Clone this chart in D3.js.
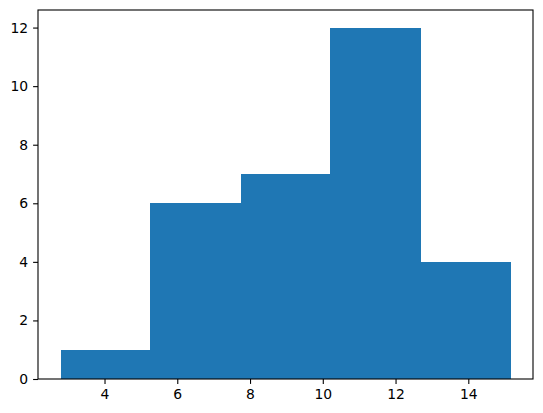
<!DOCTYPE html>
<html>
<head>
<meta charset="utf-8">
<script src="https://cdn.jsdelivr.net/npm/d3@7"></script>
<style>
  body { margin: 0; background: #fff; }
  svg text { font-family: "DejaVu Sans", sans-serif; font-size: 13.9px; fill: #000; }
</style>
</head>
<body>
<div class="chart"></div>
<script>
var width = 543;
var height = 413;

// histogram data
var binEdges = [2.79, 5.26, 7.74, 10.21, 12.69, 15.16];
var counts = [1, 6, 7, 12, 4];
var xTicks = [4, 6, 8, 10, 12, 14];
var yTicks = [0, 2, 4, 6, 8, 10, 12];

// plot area (note: "top" is reserved on window, so use a margin object)
var plot = {left: 38, right: 533, top: 10, bottom: 379};

var svg = d3.select(".chart")
  .append("svg")
  .attr("width", width)
  .attr("height", height);

var lo = binEdges[0], hi = binEdges[binEdges.length - 1];
var pad = (hi - lo) * 0.05;

var x = d3.scaleLinear()
  .domain([lo - pad, hi + pad])
  .range([plot.left, plot.right]);

var y = d3.scaleLinear()
  .domain([0, d3.max(counts) * 1.05])
  .range([plot.bottom, plot.top]);

var bins = counts.map(function(c, i) {
  return {x0: binEdges[i], x1: binEdges[i + 1], count: c};
});

svg.selectAll(".bar")
  .data(bins)
  .enter().append("rect")
    .attr("class", "bar")
    .attr("x", function(d) { return x(d.x0); })
    .attr("width", function(d) { return x(d.x1) - x(d.x0); })
    .attr("y", function(d) { return y(d.count); })
    .attr("height", function(d) { return y(0) - y(d.count); })
    .attr("fill", "#1f77b4")
    .attr("shape-rendering", "crispEdges");

var xAxis = d3.axisBottom(x)
  .tickValues(xTicks)
  .tickSize(4.9)
  .tickPadding(4.9)
  .tickSizeOuter(0);

var yAxis = d3.axisLeft(y)
  .tickValues(yTicks)
  .tickSize(4.9)
  .tickPadding(4.9)
  .tickSizeOuter(0);

var gx = svg.append("g")
  .attr("transform", "translate(0," + plot.bottom + ")")
  .call(xAxis);

var gy = svg.append("g")
  .attr("transform", "translate(" + plot.left + ",0)")
  .call(yAxis);

[gx, gy].forEach(function(g) {
  g.select(".domain").remove();
  g.selectAll("line").attr("stroke", "#000").attr("stroke-width", 1.1);
  g.selectAll("text").attr("font-family", "DejaVu Sans").attr("font-size", 13.9).attr("fill", "#000");
});

// frame
svg.append("rect")
  .attr("x", plot.left)
  .attr("y", plot.top)
  .attr("width", plot.right - plot.left)
  .attr("height", plot.bottom - plot.top)
  .attr("fill", "none")
  .attr("stroke", "#000")
  .attr("stroke-width", 1.1);
</script>
</body>
</html>
